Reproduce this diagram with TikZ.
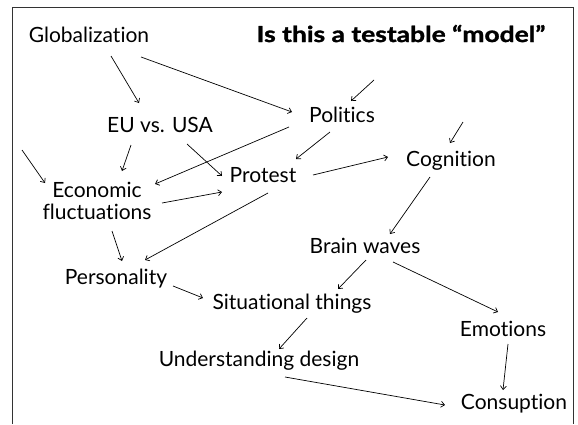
\documentclass[tikz,border=0pt]{standalone}
\usepackage{fontspec}
\setmainfont{Lato}[Ligatures=NoCommon]
\newfontfamily\titlefont{Lato}[Ligatures=NoCommon,FakeStretch=1.2,FakeBold=1.4]
\usetikzlibrary{arrows.meta,calc}
\tikzset{
  lbl/.style={anchor=base,inner sep=0pt,font=\fontsize{21}{22}\selectfont},
  arr/.style={-{Straight Barb[length=3.5pt,width=6pt]},line width=0.7pt}
}
\begin{document}
\begin{tikzpicture}[x=1pt,y=-1pt]
\useasboundingbox (0,0) rectangle (578,424);
\draw[line width=0.9pt,black!80] (12,424) -- (12,7) -- (573,7) -- (573,424);
\node[lbl,font=\fontsize{22}{23}\titlefont\bfseries] (title) at (401,42) {Is this a testable “model”};
\node[lbl] (glob) at (89,42) {Globalization};
\node[lbl] (eu) at (160,132) {EU vs. USA};
\node[lbl] (pol) at (342,122) {Politics};
\node[lbl] (prot) at (263,182) {Protest};
\node[lbl] (cog) at (451,166) {Cognition};
\node[lbl,anchor=center,align=center] (econ) at (97,201) {Economic\\fluctuations};
\node[lbl] (pers) at (116,284) {Personality};
\node[lbl] (sit) at (292,309) {Situational things};
\node[lbl] (brain) at (365,253) {Brain waves};
\node[lbl] (und) at (259,366) {Understanding design};
\node[lbl] (emo) at (503,336) {Emotions};
\node[lbl] (cons) at (514,409) {Consuption};
\coordinate (inecon) at (22,150);
\coordinate (inpol) at (374,80);
\coordinate (incog) at (463,122);
\draw[arr] ($(glob.base)+(22,14)$) -- ($(eu.base)+(-21,-29)$);
\draw[arr] ($(glob.base)+(52,15)$) -- ($(pol.base)+(-50,-10)$);
\draw[arr] ($(pol.base)+(-53,5)$) -- ($(econ)+(58,-17)$);
\draw[arr] ($(eu.base)+(-29,13)$) -- ($(econ)+(25,-30)$);
\draw[arr] ($(eu.base)+(27,12)$) -- ($(prot.base)+(-41,-6)$);
\draw[arr] (inecon) -- ($(econ)+(-52,-18)$);
\draw[arr] ($(econ)+(65,2)$) -- ($(prot.base)+(-41,10)$);
\draw[arr] ($(pol.base)+(-12,10)$) -- ($(prot.base)+(33,-23)$);
\draw[arr] (inpol) -- ($(pol.base)+(9,-21)$);
\draw[arr] ($(prot.base)+(50,-7)$) -- ($(cog.base)+(-63,-9)$);
\draw[arr] (incog) -- ($(cog.base)+(-1,-23)$);
\draw[arr] ($(cog.base)+(-21,11)$) -- ($(brain.base)+(25,-19)$);
\draw[arr] ($(prot.base)+(5,11)$) -- ($(pers.base)+(29,-24)$);
\draw[arr] ($(econ)+(15,30)$) -- ($(pers.base)+(6,-23)$);
\draw[arr] ($(pers.base)+(57,2)$) -- ($(sit.base)+(-89,-11)$);
\draw[arr] ($(brain.base)+(1,7)$) -- ($(sit.base)+(46,-20)$);
\draw[arr] ($(brain.base)+(28,9)$) -- ($(emo.base)+(-5,-24)$);
\draw[arr] ($(sit.base)+(15,9)$) -- ($(und.base)+(20,-17)$);
\draw[arr] ($(emo.base)+(5,8)$) -- ($(cons.base)+(-11,-19)$);
\draw[arr] ($(und.base)+(26,11)$) -- ($(cons.base)+(-69,-4)$);
\end{tikzpicture}
\end{document}
